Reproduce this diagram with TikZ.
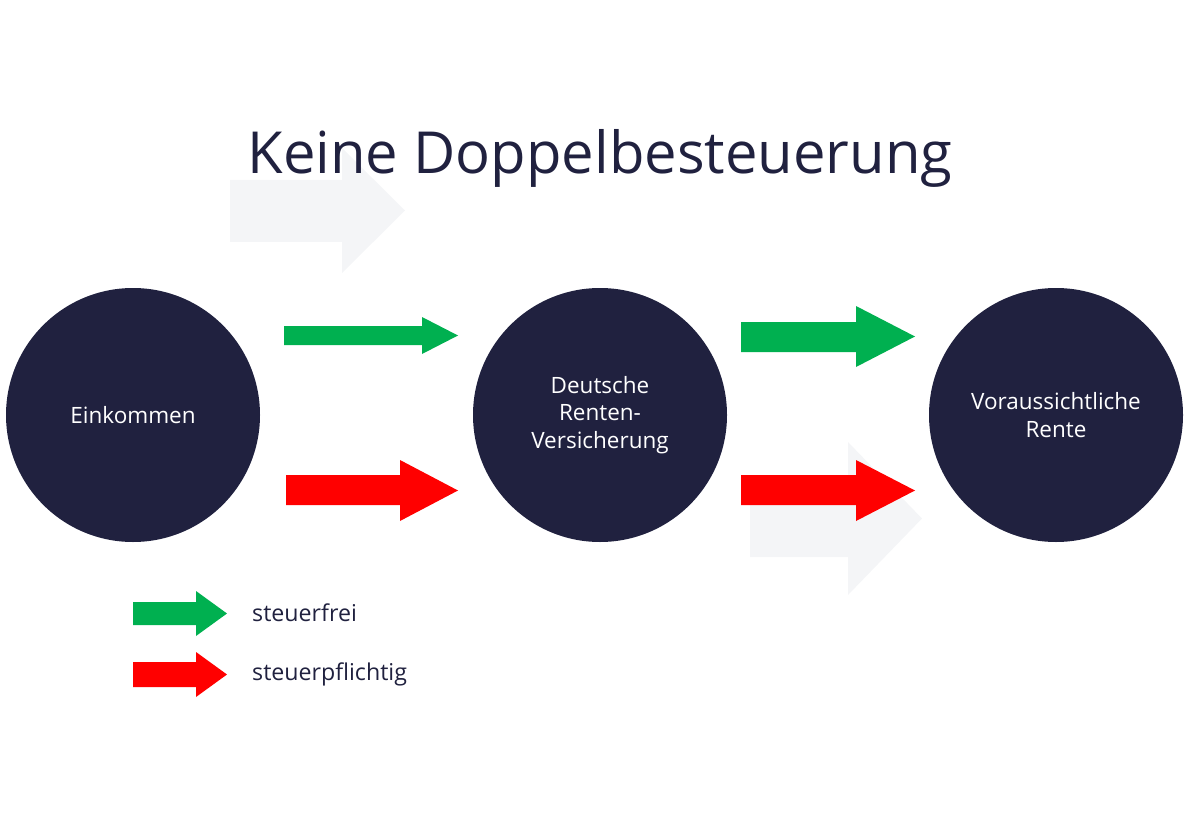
\documentclass[tikz,border=0pt]{standalone}
\usepackage{fontspec}
\setmainfont{Open Sans}
\definecolor{navy}{HTML}{20213F}
\definecolor{ggreen}{HTML}{00B050}
\definecolor{ghost}{HTML}{F4F5F7}
\newcommand{\blockarrow}[8]{% style, x0, x1(head start), x2(tip), body top, body bottom, head top, head bottom
  \fill[#1] (#2,#5) -- (#3,#5) -- (#3,#7) -- (#4,{(#7+#8)/2}) -- (#3,#8) -- (#3,#6) -- (#2,#6) -- cycle;}
\begin{document}
\begin{tikzpicture}[x=0.02cm,y=-0.02cm,
  circ/.style={circle,fill=navy,minimum size=254*0.02cm,inner sep=0pt,text=white,font=\fontsize{12.8}{15.5}\selectfont,align=center},
  leg/.style={anchor=west,text=navy,font=\fontsize{13.2}{16}\selectfont}]
\useasboundingbox (0,0) rectangle (1200,831);
\blockarrow{ghost}{230}{342}{405}{180}{242}{148}{273}
\blockarrow{ghost}{750}{848}{922}{505}{557}{442}{595}
\node[text=navy,font=\fontsize{33}{38}\selectfont] (title) at (600,158) {Keine Doppelbesteuerung};
\node[circ] (a) at (133,415) {Einkommen};
\node[circ] (b) at (600,415) {Deutsche\\Renten-\\Versicherung};
\node[circ] (c) at (1056,415) {Voraussichtliche\\Rente};
\blockarrow{ggreen}{284}{422}{458}{326}{345}{317}{354}
\blockarrow{red}{286}{400}{458}{475}{505}{460}{521}
\blockarrow{ggreen}{741}{856}{915}{322}{352}{306}{367}
\blockarrow{red}{741}{856}{915}{475}{505}{460}{521}
\blockarrow{ggreen}{133}{196}{227}{602}{625}{591}{636}
\blockarrow{red}{133}{196}{227}{662}{687}{652}{697}
\node[leg] (l1) at (246,613) {steuerfrei};
\node[leg] (l2) at (246,674) {steuerpflichtig};
\end{tikzpicture}
\end{document}
